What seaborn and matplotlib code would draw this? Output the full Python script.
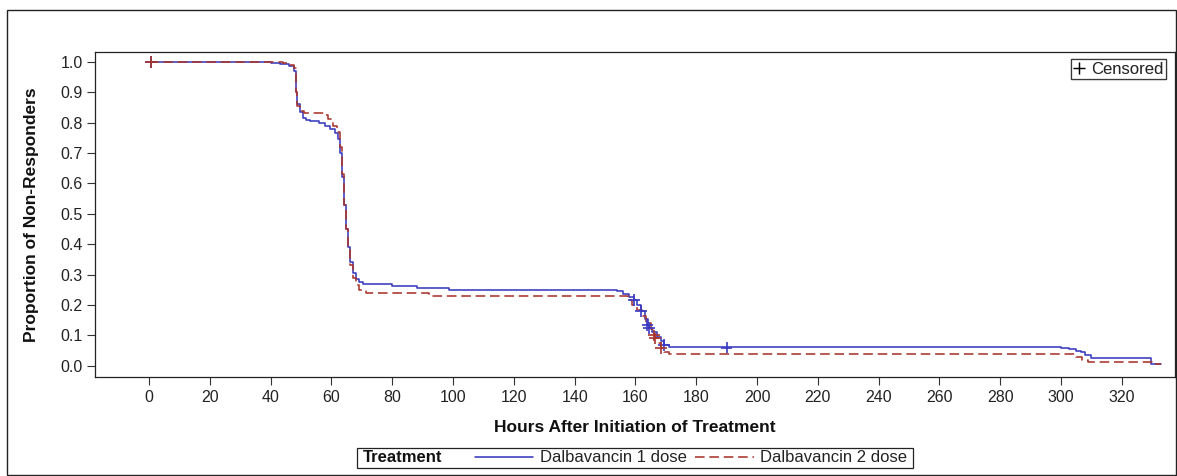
import matplotlib
matplotlib.use("Agg")
import matplotlib.pyplot as plt
import seaborn as sns
import pandas as pd
from matplotlib.lines import Line2D
from matplotlib.patches import Rectangle

# ---------------- data ----------------
hours_1 = [0, 37, 40, 43, 46, 47.7, 48.2, 48.7, 49.5, 50.5, 51.5, 53, 56, 58, 59.5, 61, 62, 62.8,
           63.5, 64.2, 64.8, 65.5, 66.2, 67, 68, 69, 70.5, 80, 88, 98.5, 154, 156, 158, 159.5,
           160.5, 161.8, 163, 164, 164.5, 165.5, 167, 168.5, 169.4, 171, 300, 302.6, 305, 306.6,
           308, 310, 329.6, 333]
surv_1 = [1.0, 1.0, 0.997, 0.992, 0.985, 0.97, 0.9, 0.86, 0.835, 0.815, 0.808, 0.805, 0.80, 0.79,
          0.78, 0.765, 0.745, 0.70, 0.62, 0.53, 0.45, 0.39, 0.34, 0.305, 0.285, 0.275, 0.268,
          0.262, 0.255, 0.248, 0.245, 0.235, 0.225, 0.216, 0.20, 0.18, 0.155, 0.134, 0.125, 0.11,
          0.095, 0.08, 0.069, 0.062, 0.060, 0.055, 0.05, 0.045, 0.035, 0.025, 0.007, 0.007]

hours_2 = [0, 40, 44, 46, 47.7, 48.2, 48.7, 49.5, 51, 55, 57.6, 59, 60.5, 61.8, 62.8, 63.5, 64.2,
           64.8, 65.5, 66.2, 67, 68, 69, 71.4, 80, 92, 156, 157.5, 159, 160.5, 162, 163.5, 165,
           166, 166.5, 167.5, 168.4, 169.5, 171, 305, 307, 309, 330, 333]
surv_2 = [1.0, 1.0, 0.995, 0.99, 0.98, 0.9, 0.853, 0.838, 0.833, 0.83, 0.825, 0.81, 0.79, 0.77,
          0.72, 0.63, 0.53, 0.45, 0.38, 0.33, 0.29, 0.265, 0.25, 0.24, 0.238, 0.229, 0.228,
          0.215, 0.20, 0.185, 0.165, 0.14, 0.12, 0.10, 0.09, 0.075, 0.059, 0.045, 0.040, 0.03,
          0.02, 0.013, 0.005, 0.005]

censor_x_1 = [0.5, 159.5, 161.8, 163.9, 164.5, 169.4, 190]
censor_y_1 = [1.0, 0.216, 0.18, 0.134, 0.125, 0.069, 0.060]
censor_x_2 = [0.5, 166, 166.5, 168.4]
censor_y_2 = [1.0, 0.10, 0.09, 0.059]

treatments = ["Dalbavancin 1 dose", "Dalbavancin 2 dose"]
x_ticks = list(range(0, 321, 20))
y_ticks = [round(0.1 * i, 1) for i in range(11)]

# ---------------- style ----------------
sns.set_style("ticks")
plt.rcParams["font.family"] = ["Liberation Sans", "DejaVu Sans"]

blue = "#3A3AC0"
red = "#A8352C"
W, H = 1177, 476

df = pd.DataFrame({
    "Hours": hours_1 + hours_2,
    "Surv": surv_1 + surv_2,
    "Treatment": [treatments[0]] * len(hours_1) + [treatments[1]] * len(hours_2),
})
cens = pd.DataFrame({
    "Hours": censor_x_1 + censor_x_2,
    "Surv": censor_y_1 + censor_y_2,
    "Treatment": [treatments[0]] * len(censor_x_1) + [treatments[1]] * len(censor_x_2),
})

fig = plt.figure(figsize=(W / 100, H / 100), dpi=100)
ax = fig.add_axes([95 / W, 1 - 377 / H, (1175 - 95) / W, (377 - 52) / H])

sns.lineplot(data=df, x="Hours", y="Surv", hue="Treatment", style="Treatment",
             palette={treatments[0]: blue, treatments[1]: red},
             dashes={treatments[0]: "", treatments[1]: (6, 3)},
             estimator=None, sort=False, drawstyle="steps-post", linewidth=1.15,
             ax=ax, legend=False)
sns.scatterplot(data=cens, x="Hours", y="Surv", hue="Treatment",
                palette={treatments[0]: blue, treatments[1]: red},
                marker="+", s=70, linewidth=1.2, ax=ax, legend=False, zorder=3)

ax.set_xlim(-17.8, 337.5)
ax.set_ylim(-0.037, 1.032)
ax.set_xticks(x_ticks)
ax.set_yticks(y_ticks)
ax.set_yticklabels([f"{v:.1f}" for v in y_ticks])
ax.tick_params(axis="both", labelsize=11.5, length=5.5, width=0.8, color="#333333",
               labelcolor="#222222")
ax.tick_params(axis="x", pad=4)
ax.tick_params(axis="y", pad=3.5)
for s in ax.spines.values():
    s.set_linewidth(0.9)
    s.set_color("#222222")
ax.set_xlabel("Hours After Initiation of Treatment", fontsize=12.5, fontweight="bold",
              color="#111111", va="center")
ax.set_ylabel("Proportion of Non-Responders", fontsize=12.5, fontweight="bold",
              color="#111111", va="center")
ax.xaxis.set_label_coords(0.5, (377 - 427) / 325)
ax.yaxis.set_label_coords((32 - 95) / 1080, 0.5)

# censored legend (inside, top right)
cens_handle = Line2D([], [], color="black", marker="+", linestyle="none", markersize=8,
                     markeredgewidth=1.0)
leg_c = ax.legend([cens_handle], ["Censored"], loc="upper right",
                  bbox_to_anchor=(1 - 9 / 1080, 1 - 7 / 325),
                  frameon=True, fancybox=False, fontsize=12, handlelength=0.7,
                  handletextpad=0.35, borderpad=0.15, borderaxespad=0)
leg_c.get_frame().set_edgecolor("#222222")
leg_c.get_frame().set_linewidth(0.9)
ax.add_artist(leg_c)

# treatment legend at bottom, title inline to the left, one box around all
yc = 1 - 458 / H
fig.text(363 / W, yc, "Treatment", fontsize=12, fontweight="bold", va="center", ha="left",
         color="#111111")
h1 = Line2D([], [], color=blue, linewidth=1.15)
h2 = Line2D([], [], color=red, linewidth=1.15, dashes=(6, 3))
leg = fig.legend([h1, h2], treatments, ncol=2, loc="center left",
                 bbox_to_anchor=(475 / W, yc), frameon=False, fontsize=12,
                 handlelength=3.5, handletextpad=0.4, columnspacing=0.5, borderpad=0,
                 borderaxespad=0, labelcolor="#222222")
fig.patches.append(Rectangle((357 / W, 1 - 468 / H), (913 - 357) / W, 20 / H,
                             transform=fig.transFigure, fill=False, edgecolor="#222222",
                             linewidth=0.9))

# outer figure border
fig.patches.append(Rectangle((7 / W, 0.002), 1 - 7 / W - 0.001, 1 - 10 / H - 0.002,
                             transform=fig.transFigure, fill=False, edgecolor="#222222",
                             linewidth=1.0))

fig.savefig("out.png", dpi=100)
